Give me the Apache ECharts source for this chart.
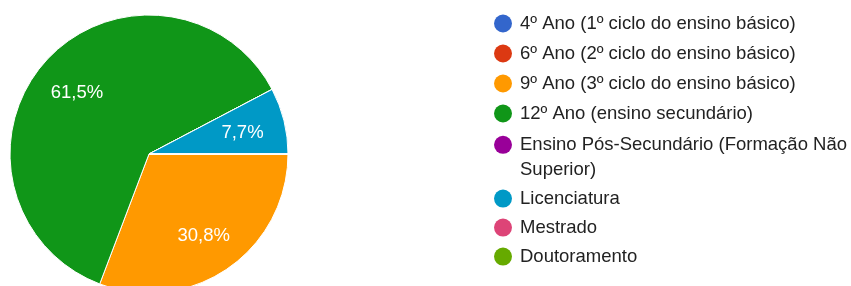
<!DOCTYPE html>
<html>
<head>
<meta charset="utf-8">
<script src="https://cdn.jsdelivr.net/npm/echarts@6/dist/echarts.min.js"></script>
<style>
html,body{margin:0;padding:0;background:#fff;}
#chart{width:851px;height:286px;}
</style>
</head>
<body>
<div id="chart"></div>
<script>
const categories = [
  "4º Ano (1º ciclo do ensino básico)",
  "6º Ano (2º ciclo do ensino básico)",
  "9º Ano (3º ciclo do ensino básico)",
  "12º Ano (ensino secundário)",
  "Ensino Pós-Secundário (Formação Não Superior)",
  "Licenciatura",
  "Mestrado",
  "Doutoramento"
];
const counts = [0, 0, 4, 8, 0, 1, 0, 0];
const colors = ["#3366cc", "#dc3912", "#ff9900", "#109618", "#990099", "#0099c6", "#dd4477", "#66aa00"];

const FONT = "'Liberation Sans', Arial, sans-serif";
const FONT_SIZE = 18.5;
const data = categories.map((c, i) => ({ name: c, value: counts[i], itemStyle: { color: colors[i] } }));
const labelData = categories.map((c, i) => ({ name: c, value: counts[i] }));

const center = [149, 154];
const R = 139;

// word-wrap a legend label to a maximum pixel width
const measureCtx = document.createElement('canvas').getContext('2d');
measureCtx.font = FONT_SIZE + 'px ' + FONT;
function wrapText(text, maxW) {
  const words = text.split(' ');
  const lines = [];
  let cur = '';
  words.forEach(w => {
    const test = cur ? cur + ' ' + w : w;
    if (cur && measureCtx.measureText(test).width > maxW) {
      lines.push(cur);
      cur = w;
    } else {
      cur = test;
    }
  });
  if (cur) lines.push(cur);
  return lines.join('\n');
}

function legendBase(names, top, gap, extra) {
  return Object.assign({
    orient: 'vertical',
    left: 494,
    top: top,
    padding: 0,
    icon: 'circle',
    itemWidth: 18,
    itemHeight: 18,
    itemGap: gap,
    selectedMode: false,
    itemStyle: { borderWidth: 0 },
    data: names,
    textStyle: {
      fontFamily: FONT,
      fontSize: FONT_SIZE,
      color: '#222',
      padding: [0, 0, 0, 3]
    }
  }, extra || {});
}

const chart = echarts.init(document.getElementById('chart'), null, { renderer: 'canvas' });
chart.setOption({
  animation: false,
  backgroundColor: '#fff',
  legend: [
    legendBase(categories.slice(0, 4), 14, 11),
    (function () {
      const l = legendBase(categories.slice(4, 5), 107.3, 10);
      l.textStyle.lineHeight = 25;
      l.formatter = name => '\n' + wrapText(name, 330);
      return l;
    })(),
    legendBase(categories.slice(5, 8), 189.1, 10)
  ],
  series: [
    {
      type: 'pie',
      center: center,
      radius: [0, R],
      startAngle: 0,
      clockwise: true,
      silent: true,
      avoidLabelOverlap: false,
      label: { show: false },
      labelLine: { show: false },
      itemStyle: { borderColor: '#fff', borderWidth: 1 },
      data: data
    },
    {
      type: 'pie',
      center: [149, 156.3],
      radius: [47.6, R],
      startAngle: 0,
      clockwise: true,
      silent: true,
      avoidLabelOverlap: false,
      percentPrecision: 1,
      itemStyle: { color: 'transparent', borderWidth: 0 },
      label: {
        show: true,
        position: 'inside',
        color: '#fff',
        fontFamily: FONT,
        fontSize: FONT_SIZE,
        formatter: p => p.value > 0 ? String(p.percent.toFixed(1)).replace('.', ',') + '%' : ''
      },
      labelLine: { show: false },
      data: labelData
    }
  ]
});
</script>
</body>
</html>
